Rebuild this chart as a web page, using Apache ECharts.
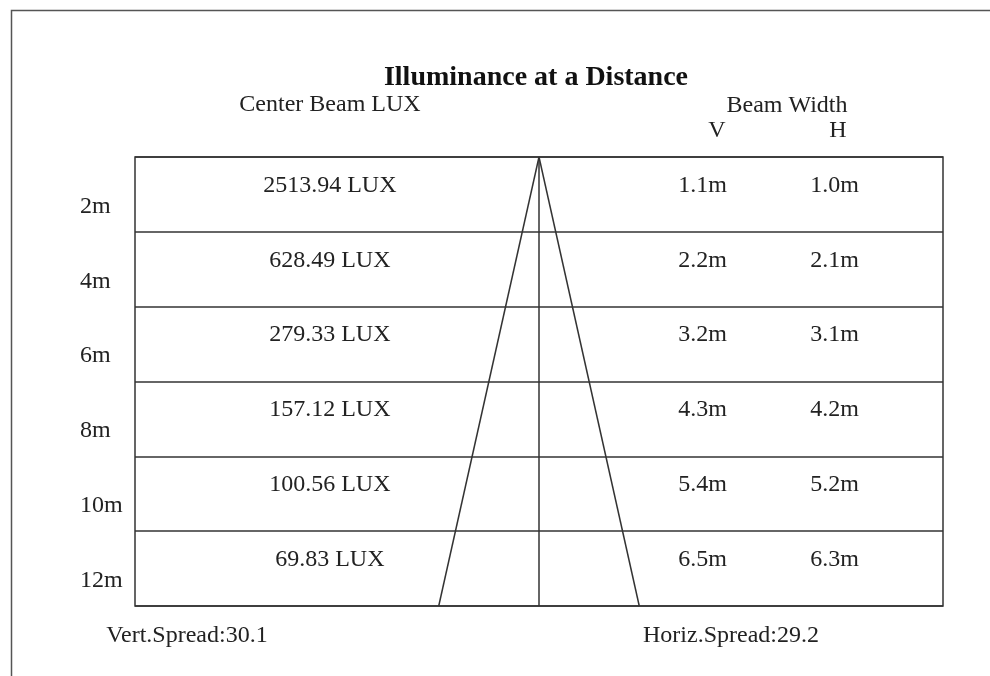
<!DOCTYPE html>
<html>
<head>
<meta charset="utf-8">
<style>
  html, body { margin: 0; padding: 0; background: #fff; }
  #chart { width: 990px; height: 676px; }
</style>
<script src="https://cdn.jsdelivr.net/npm/echarts@6/dist/echarts.min.js"></script>
</head>
<body>
<div id="chart"></div>
<script>
// data
var distances = ['2m', '4m', '6m', '8m', '10m', '12m'];
var luxValues = [2513.94, 628.49, 279.33, 157.12, 100.56, 69.83];
var beamV = [1.1, 2.2, 3.2, 4.3, 5.4, 6.5];
var beamH = [1.0, 2.1, 3.1, 4.2, 5.2, 6.3];
var vertSpread = 30.1;
var horizSpread = 29.2;
var maxDist = 12;

var FONT = 'Liberation Serif';
var TXT = '#222';
var LINE = '#333';

// beam cone edge at the furthest distance, half width in metres
var half = maxDist * Math.tan(vertSpread / 2 * Math.PI / 180);

function textCol(vals, x, fmt) {
  return {
    type: 'scatter',
    xAxisIndex: 0,
    yAxisIndex: 0,
    symbolSize: 0,
    silent: true,
    itemStyle: { opacity: 1 },
    data: vals.map(function (v, i) { return [x, i, v]; }),
    label: {
      show: true,
      position: 'inside',
      offset: [0, -9],
      formatter: function (p) { return fmt(p.value[2]); },
      color: TXT,
      opacity: 1,
      textBorderWidth: 0,
      fontFamily: FONT,
      fontSize: 24
    }
  };
}

function coneLine(pts) {
  return {
    type: 'line',
    xAxisIndex: 0,
    yAxisIndex: 1,
    symbol: 'none',
    silent: true,
    data: pts,
    lineStyle: { color: LINE, width: 1.5 }
  };
}

var chart = echarts.init(document.getElementById('chart'));

var option = {
  animation: false,
  backgroundColor: '#fff',
  title: [
    {
      text: 'Illuminance at a Distance',
      left: 531, top: 59, textAlign: 'center',
      textStyle: { fontFamily: FONT, fontSize: 28, fontWeight: 'bold', color: '#111' }
    }
  ],
  graphic: [
    {
      type: 'rect', left: 9, top: 8, silent: true,
      shape: { width: 1000, height: 700 },
      style: { fill: null, stroke: '#555', lineWidth: 1.5 }
    },
    { type: 'text', x: 330, y: 105, style: { text: 'Center Beam LUX', align: 'center', verticalAlign: 'middle', font: '24px "' + FONT + '"', fill: TXT } },
    { type: 'text', x: 787, y: 106, style: { text: 'Beam Width', align: 'center', verticalAlign: 'middle', font: '24px "' + FONT + '"', fill: TXT } },
    { type: 'text', x: 717, y: 131, style: { text: 'V', align: 'center', verticalAlign: 'middle', font: '24px "' + FONT + '"', fill: TXT } },
    { type: 'text', x: 838, y: 131, style: { text: 'H', align: 'center', verticalAlign: 'middle', font: '24px "' + FONT + '"', fill: TXT } },
    { type: 'text', x: 187, y: 636, style: { text: 'Vert.Spread:' + vertSpread, align: 'center', verticalAlign: 'middle', font: '24px "' + FONT + '"', fill: TXT } },
    { type: 'text', x: 643, y: 636, style: { text: 'Horiz.Spread:' + horizSpread, align: 'left', verticalAlign: 'middle', font: '24px "' + FONT + '"', fill: TXT } }
  ],
  grid: {
    left: 135, right: 47, top: 157, bottom: 70,
    show: true, borderColor: LINE, borderWidth: 1.5, backgroundColor: 'transparent'
  },
  xAxis: [{
    type: 'value', min: -13, max: 13,
    show: false, splitLine: { show: false }
  }],
  yAxis: [
    {
      type: 'category',
      data: distances,
      inverse: true,
      axisLine: { show: false },
      axisTick: { show: false },
      splitLine: { show: true, lineStyle: { color: LINE, width: 1.5 } },
      axisLabel: {
        align: 'left',
        verticalAlign: 'top',
        margin: 55,
        color: TXT,
        fontFamily: FONT,
        fontSize: 24
      }
    },
    {
      type: 'value', min: 0, max: maxDist, inverse: true,
      show: false, splitLine: { show: false }
    }
  ],
  series: [
    textCol(luxValues, -6.73, function (v) { return v.toFixed(2) + ' LUX'; }),
    textCol(beamV, 5.26, function (v) { return v.toFixed(1) + 'm'; }),
    textCol(beamH, 9.51, function (v) { return v.toFixed(1) + 'm'; }),
    coneLine([[0, 0], [-half, maxDist]]),
    coneLine([[0, 0], [0, maxDist]]),
    coneLine([[0, 0], [half, maxDist]])
  ]
};

chart.setOption(option);
</script>
</body>
</html>
